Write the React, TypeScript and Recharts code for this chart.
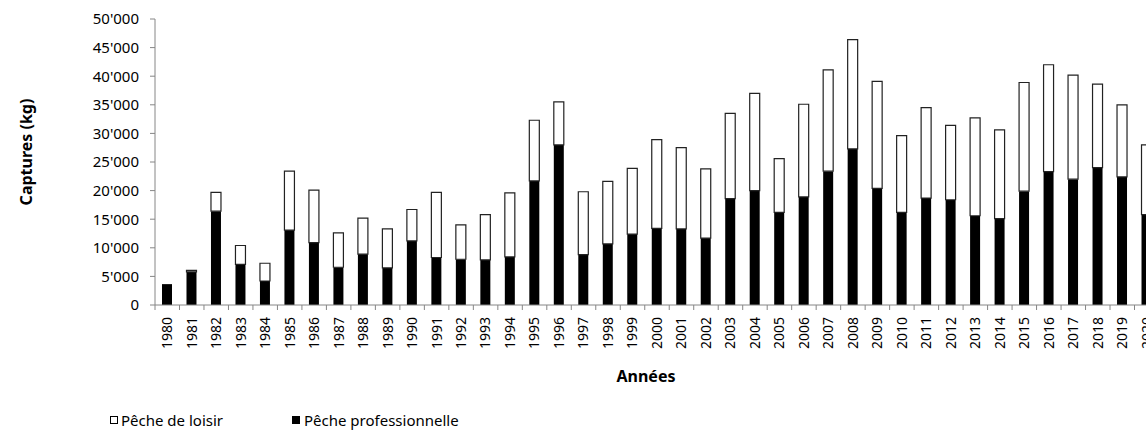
import {
  BarChart, Bar, XAxis, YAxis, Legend,
} from 'recharts'

const YEARS = [
  '1980', '1981', '1982', '1983', '1984', '1985', '1986', '1987', '1988', '1989',
  '1990', '1991', '1992', '1993', '1994', '1995', '1996', '1997', '1998', '1999',
  '2000', '2001', '2002', '2003', '2004', '2005', '2006', '2007', '2008', '2009',
  '2010', '2011', '2012', '2013', '2014', '2015', '2016', '2017', '2018', '2019',
  '2020',
]

// Pêche professionnelle (kg)
const PRO = [
  3650, 5800, 16400, 7100, 4200, 13100, 10900, 6600, 8900, 6500,
  11200, 8300, 8000, 7900, 8400, 21700, 28000, 8800, 10700, 12400,
  13400, 13300, 11700, 18600, 20000, 16200, 18900, 23400, 27300, 20400,
  16200, 18700, 18400, 15600, 15100, 19900, 23300, 22000, 24000, 22400,
  15800,
]

// Pêche de loisir (kg)
const LOISIR = [
  0, 250, 3300, 3300, 3100, 10300, 9200, 6000, 6300, 6800,
  5500, 11400, 6000, 7900, 11200, 10600, 7500, 11000, 10900, 11500,
  15500, 14200, 12100, 14900, 17000, 9400, 16200, 17700, 19100, 18700,
  13400, 15800, 13000, 17100, 15500, 19000, 18700, 18200, 14600, 12600,
  12200,
]

const Y_TICKS = [0, 5000, 10000, 15000, 20000, 25000, 30000, 35000, 40000, 45000, 50000]

const data = YEARS.map((year, i) => ({
  year,
  pro: PRO[i],
  loisir: LOISIR[i],
}))

const FONT = '"Noto Sans", sans-serif'
const AXIS_GREY = '#868686'

const fmtTick = (v: number) =>
  v === 0 ? '0' : `${Math.floor(v / 1000)}'${String(v % 1000).padStart(3, '0')}`

// category ticks drawn between bars, like the spreadsheet original
const YearTick = (props: any) => {
  const { x, y, payload, width, visibleTicksCount } = props
  const half = width / visibleTicksCount / 2
  return (
    <g>
      <line x1={x - half} y1={y} x2={x - half} y2={y + 5} stroke={AXIS_GREY} />
      <text
        x={x}
        y={y + 12}
        transform={`rotate(-90, ${x}, ${y + 12})`}
        textAnchor="end"
        dy="0.35em"
        fontSize={14}
        fontFamily={FONT}
        fill="#000"
      >
        {payload.value}
      </text>
    </g>
  )
}

const LegendBox = () => (
  <div style={{ position: 'relative', height: 18, fontFamily: FONT, fontSize: 15, lineHeight: '18px', color: '#000' }}>
    <div style={{ position: 'absolute', left: 110, top: 0, display: 'flex', alignItems: 'center' }}>
      <span style={{ width: 6, height: 6, border: '1px solid #000', background: '#fff', marginRight: 3 }} />
      <span>Pêche de loisir</span>
    </div>
    <div style={{ position: 'absolute', left: 292, top: 0, display: 'flex', alignItems: 'center' }}>
      <span style={{ width: 8, height: 8, background: '#000', marginRight: 4 }} />
      <span>Pêche professionnelle</span>
    </div>
  </div>
)

export default function App() {
  return (
    <div style={{
      position: 'absolute', left: 0, top: 0, width: 1146, height: 430,
      overflow: 'hidden', background: '#fff',
    }}>
      <BarChart
        width={1170}
        height={430}
        data={data}
        margin={{ top: 19, right: 11, left: 0, bottom: 65 }}
        barSize={10}
      >
        <YAxis
          width={155}
          domain={[0, 50000]}
          ticks={Y_TICKS}
          interval={0}
          tickFormatter={fmtTick}
          tick={{ fontSize: 15, fontFamily: FONT, fill: '#000' }}
          tickLine={{ stroke: AXIS_GREY }}
          axisLine={{ stroke: AXIS_GREY }}
          tickSize={5}
          tickMargin={11}
          label={{
            content: () => (
              <text
                x={26}
                y={152}
                transform="rotate(-90, 26, 152)"
                textAnchor="middle"
                dy="0.35em"
                fontSize={16}
                fontWeight="bold"
                fontFamily={FONT}
                fill="#000"
              >
                Captures (kg)
              </text>
            ),
          }}
        />
        <XAxis
          dataKey="year"
          interval={0}
          height={60}
          tickSize={0}
          tickMargin={0}
          tick={<YearTick />}
          axisLine={{ stroke: AXIS_GREY }}
          label={{
            content: () => (
              <text
                x={646}
                y={376}
                textAnchor="middle"
                dy="0.35em"
                fontSize={16}
                fontWeight="bold"
                fontFamily={FONT}
                fill="#000"
              >
                Années
              </text>
            ),
          }}
        />
        <Legend
          layout="horizontal"
          verticalAlign="middle"
          align="center"
          content={<LegendBox />}
          wrapperStyle={{ left: 0, top: 411, width: 600, height: 18 }}
        />
        <Bar dataKey="pro" name="Pêche professionnelle" stackId="a" fill="#000" isAnimationActive={false} />
        <Bar
          dataKey="loisir"
          name="Pêche de loisir"
          stackId="a"
          fill="#fff"
          stroke="#222"
          strokeWidth={1.2}
          isAnimationActive={false}
        />
      </BarChart>
    </div>
  )
}
